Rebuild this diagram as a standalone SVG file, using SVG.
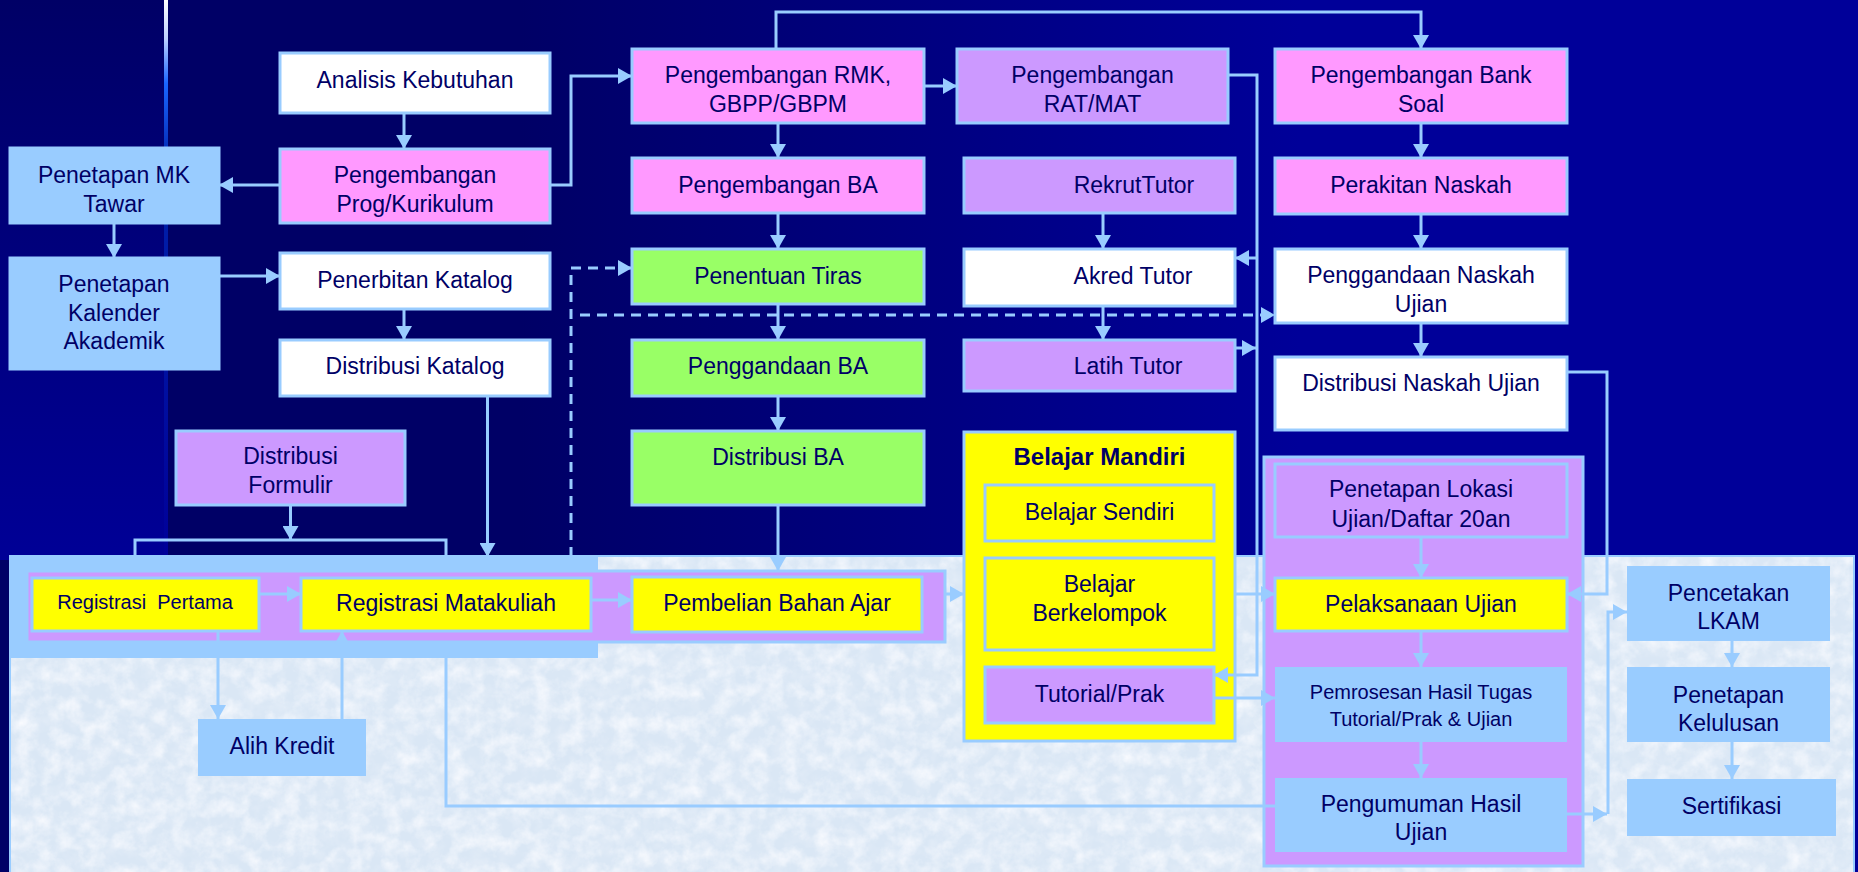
<svg xmlns="http://www.w3.org/2000/svg" width="1858" height="872" viewBox="0 0 1858 872">
<defs>
<style>
.t{font-family:"Liberation Sans",Arial,sans-serif;font-size:23px;fill:#000066;text-anchor:middle}
.s{font-size:20px}
.b{font-weight:bold;font-size:24px}
.box{stroke:#99ccff;stroke-width:3}
.pink{fill:#ff99ff}.purple{fill:#cc99ff}.green{fill:#99ff66}.yellow{fill:#ffff00}.white{fill:#ffffff}.lb{fill:#99ccff}
.c{fill:none;stroke:#99ccff;stroke-width:3}
.a{marker-end:url(#ah)}
.d{stroke-dasharray:10 7}
</style>
<marker id="ah" viewBox="0 0 14 16" refX="14" refY="8" markerWidth="14" markerHeight="16" markerUnits="userSpaceOnUse" orient="auto">
<path d="M0,0 L14,8 L0,16 z" fill="#99ccff"/>
</marker>
<linearGradient id="bgR" x1="0" y1="0" x2="1858" y2="0" gradientUnits="userSpaceOnUse">
<stop offset="0.28" stop-color="#000066"/>
<stop offset="0.7" stop-color="#000099"/>
</linearGradient>
<linearGradient id="bgL" x1="0" y1="0" x2="0" y2="1">
<stop offset="0" stop-color="#000066"/>
<stop offset="1" stop-color="#000096"/>
</linearGradient>
<linearGradient id="ln" x1="0" y1="0" x2="0" y2="556" gradientUnits="userSpaceOnUse">
<stop offset="0" stop-color="#ffffff"/>
<stop offset="0.07" stop-color="#bcd0ff"/>
<stop offset="0.15" stop-color="#1a66ff"/>
<stop offset="0.3" stop-color="#0022aa"/>
<stop offset="1" stop-color="#000099"/>
</linearGradient>
<filter id="texW" x="0" y="0" width="100%" height="100%">
<feTurbulence type="fractalNoise" baseFrequency="0.06" numOctaves="4" seed="11" result="n"/>
<feColorMatrix in="n" type="matrix" values="0 0 0 0 0.96  0 0 0 0 0.97  0 0 0 0 1  1.6 0 0 0 -0.62"/>
<feComposite in2="SourceGraphic" operator="in"/>
</filter>
<filter id="texB" x="0" y="0" width="100%" height="100%">
<feTurbulence type="fractalNoise" baseFrequency="0.07" numOctaves="3" seed="4" result="n"/>
<feColorMatrix in="n" type="matrix" values="0 0 0 0 0.78  0 0 0 0 0.85  0 0 0 0 0.94  0 1.6 0 0 -0.65"/>
<feComposite in2="SourceGraphic" operator="in"/>
</filter>
</defs>

<g id="background">
<rect x="0" y="0" width="1858" height="872" fill="url(#bgR)"/>
<rect x="0" y="0" width="166" height="560" fill="url(#bgL)"/>
<rect x="164" y="0" width="4" height="556" fill="url(#ln)"/>
<rect x="10" y="556" width="1844" height="320" fill="#dae7f5" stroke="#99ccff" stroke-width="2"/>
<rect x="11" y="557" width="1842" height="315" fill="#ffffff" filter="url(#texB)"/>
<rect x="11" y="557" width="1842" height="315" fill="#ffffff" filter="url(#texW)"/>
</g>

<g id="registrasi-band">
<rect x="11" y="557" width="587" height="101" fill="#99ccff"/>
<rect x="27" y="571" width="918" height="71" class="purple box"/>
</g>
<g id="belajar-mandiri">
<rect x="964" y="432" width="271" height="309" class="yellow box"/>
<text x="1099.5" y="465" class="t b">Belajar Mandiri</text>
</g>
<g id="ujian-group">
<rect x="1264" y="457" width="319" height="409" class="purple box"/>
</g>

<g id="connectors">
<path class="c a" d="M404,113 V149"/>
<path class="c a" d="M280,185 H219"/>
<path class="c a" d="M114,223 V258"/>
<path class="c a" d="M219,276 H280"/>
<path class="c a" d="M404,309 V340"/>
<path class="c a" d="M550,185 H571 V76 H632"/>
<path class="c a" d="M776,49 V12 H1421 V49"/>
<path class="c a" d="M924,86 H957"/>
<path class="c a" d="M778,123 V158"/>
<path class="c a" d="M778,213 V249"/>
<path class="c a" d="M778,304 V340"/>
<path class="c a" d="M778,396 V431"/>
<path class="c a" d="M778,505 V571"/>
<path class="c a" d="M1103,213 V249"/>
<path class="c a" d="M1103,306 V340"/>
<path class="c a" d="M1228,75 H1257 V675 H1214"/>
<path class="c a" d="M1257,258 H1235"/>
<path class="c a" d="M1235,348 H1256"/>
<path class="c a" d="M1421,123 V158"/>
<path class="c a" d="M1421,214 V249"/>
<path class="c a" d="M1421,323 V357"/>
<path class="c a" d="M1567,372 H1607 V594 H1567"/>
<path class="c a" d="M1421,537 V578"/>
<path class="c a" d="M1421,631 V667"/>
<path class="c a" d="M1421,742 V778"/>
<path class="c a" d="M1567,814 H1607"/>
<path class="c a" d="M1608,814 V612 H1627"/>
<path class="c a" d="M1732,641 V667"/>
<path class="c a" d="M1732,742 V779"/>
<path class="c a" d="M487.5,396 V557"/>
<path class="c a" d="M290.5,505 V540"/>
<path class="c" d="M135,557 V540 H446 V557"/>
<path class="c a" d="M259,594 H301"/>
<path class="c a" d="M591,600 H632"/>
<path class="c a" d="M945,594 H964"/>
<path class="c a" d="M1235,594 H1275"/>
<path class="c a" d="M1214,698 H1275"/>
<path class="c a" d="M218,631 V719"/>
<path class="c a" d="M342,719 V631"/>
<path class="c" d="M446,658 V806 H1275"/>
<path class="c d a" d="M571,557 V268 H632"/>
<path class="c d a" d="M580,315 H1275"/>
</g>

<g id="analisis-kebutuhan"><rect x="280" y="53" width="270" height="60" class="white box"/><text x="415" y="88" class="t">Analisis Kebutuhan</text></g>
<g id="pengembangan-prog"><rect x="280" y="149" width="270" height="74" class="pink box"/><text x="415" y="183" class="t">Pengembangan</text><text x="415" y="212" class="t">Prog/Kurikulum</text></g>
<g id="penetapan-mk"><rect x="10" y="148" width="209" height="75" class="lb box"/><text x="114" y="183" class="t">Penetapan MK</text><text x="114" y="212" class="t">Tawar</text></g>
<g id="penetapan-kalender"><rect x="10" y="258" width="209" height="111" class="lb box"/><text x="114" y="292" class="t">Penetapan</text><text x="114" y="321" class="t">Kalender</text><text x="114" y="349" class="t">Akademik</text></g>
<g id="penerbitan-katalog"><rect x="280" y="253" width="270" height="56" class="white box"/><text x="415" y="288" class="t">Penerbitan Katalog</text></g>
<g id="distribusi-katalog"><rect x="280" y="340" width="270" height="56" class="white box"/><text x="415" y="374" class="t">Distribusi Katalog</text></g>
<g id="distribusi-formulir"><rect x="176" y="431" width="229" height="74" class="purple box"/><text x="290.5" y="464" class="t">Distribusi</text><text x="290.5" y="493" class="t">Formulir</text></g>
<g id="pengembangan-rmk"><rect x="632" y="49" width="292" height="74" class="pink box"/><text x="778" y="83" class="t">Pengembangan RMK,</text><text x="778" y="112" class="t">GBPP/GBPM</text></g>
<g id="pengembangan-rat"><rect x="957" y="49" width="271" height="74" class="purple box"/><text x="1092.5" y="83" class="t">Pengembangan</text><text x="1092.5" y="112" class="t">RAT/MAT</text></g>
<g id="pengembangan-ba"><rect x="632" y="158" width="292" height="55" class="pink box"/><text x="778" y="193" class="t">Pengembangan BA</text></g>
<g id="rekrut-tutor"><rect x="964" y="158" width="271" height="55" class="purple box"/><text x="1134" y="193" class="t">RekrutTutor</text></g>
<g id="penentuan-tiras"><rect x="632" y="249" width="292" height="55" class="green box"/><text x="778" y="284" class="t">Penentuan Tiras</text></g>
<g id="akred-tutor"><rect x="964" y="249" width="271" height="57" class="white box"/><text x="1133" y="284" class="t">Akred Tutor</text></g>
<g id="penggandaan-ba"><rect x="632" y="340" width="292" height="56" class="green box"/><text x="778" y="374" class="t">Penggandaan BA</text></g>
<g id="latih-tutor"><rect x="964" y="340" width="271" height="51" class="purple box"/><text x="1128" y="374" class="t">Latih Tutor</text></g>
<g id="distribusi-ba"><rect x="632" y="431" width="292" height="74" class="green box"/><text x="778" y="465" class="t">Distribusi BA</text></g>
<g id="bank-soal"><rect x="1275" y="49" width="292" height="74" class="pink box"/><text x="1421" y="83" class="t">Pengembangan Bank</text><text x="1421" y="112" class="t">Soal</text></g>
<g id="perakitan-naskah"><rect x="1275" y="158" width="292" height="56" class="pink box"/><text x="1421" y="193" class="t">Perakitan Naskah</text></g>
<g id="penggandaan-naskah"><rect x="1275" y="249" width="292" height="74" class="white box"/><text x="1421" y="283" class="t">Penggandaan Naskah</text><text x="1421" y="312" class="t">Ujian</text></g>
<g id="distribusi-naskah"><rect x="1275" y="357" width="292" height="73" class="white box"/><text x="1421" y="391" class="t">Distribusi Naskah Ujian</text></g>
<g id="belajar-sendiri"><rect x="985" y="485" width="229" height="56" class="yellow box"/><text x="1099.5" y="520" class="t">Belajar Sendiri</text></g>
<g id="belajar-berkelompok"><rect x="985" y="558" width="229" height="92" class="yellow box"/><text x="1099.5" y="592" class="t">Belajar</text><text x="1099.5" y="621" class="t">Berkelompok</text></g>
<g id="tutorial-prak"><rect x="985" y="667" width="229" height="56" class="purple box"/><text x="1099.5" y="702" class="t">Tutorial/Prak</text></g>
<g id="registrasi-pertama"><rect x="32" y="578" width="227" height="53" class="yellow box"/><text x="145" y="609" class="t s" xml:space="preserve">Registrasi  Pertama</text></g>
<g id="registrasi-matakuliah"><rect x="301" y="578" width="290" height="53" class="yellow box"/><text x="446" y="611" class="t">Registrasi Matakuliah</text></g>
<g id="pembelian-bahan-ajar"><rect x="632" y="577" width="290" height="55" class="yellow box"/><text x="777" y="611" class="t">Pembelian Bahan Ajar</text></g>
<g id="alih-kredit"><rect x="198" y="719" width="168" height="57" class="lb"/><text x="282" y="754" class="t">Alih Kredit</text></g>
<g id="penetapan-lokasi"><rect x="1275" y="464" width="292" height="73" class="purple box"/><text x="1421" y="497" class="t">Penetapan Lokasi</text><text x="1421" y="527" class="t">Ujian/Daftar 20an</text></g>
<g id="pelaksanaan-ujian"><rect x="1275" y="578" width="292" height="53" class="yellow box"/><text x="1421" y="612" class="t">Pelaksanaan Ujian</text></g>
<g id="pemrosesan-hasil"><rect x="1275" y="667" width="292" height="75" class="lb"/><text x="1421" y="699" class="t s">Pemrosesan Hasil Tugas</text><text x="1421" y="726" class="t s">Tutorial/Prak &amp; Ujian</text></g>
<g id="pengumuman-hasil"><rect x="1275" y="778" width="292" height="74" class="lb"/><text x="1421" y="812" class="t">Pengumuman Hasil</text><text x="1421" y="840" class="t">Ujian</text></g>
<g id="pencetakan-lkam"><rect x="1627" y="566" width="203" height="75" class="lb"/><text x="1728.5" y="601" class="t">Pencetakan</text><text x="1728.5" y="629" class="t">LKAM</text></g>
<g id="penetapan-kelulusan"><rect x="1627" y="667" width="203" height="75" class="lb"/><text x="1728.5" y="703" class="t">Penetapan</text><text x="1728.5" y="731" class="t">Kelulusan</text></g>
<g id="sertifikasi"><rect x="1627" y="779" width="209" height="57" class="lb"/><text x="1731.5" y="814" class="t">Sertifikasi</text></g>
</svg>
